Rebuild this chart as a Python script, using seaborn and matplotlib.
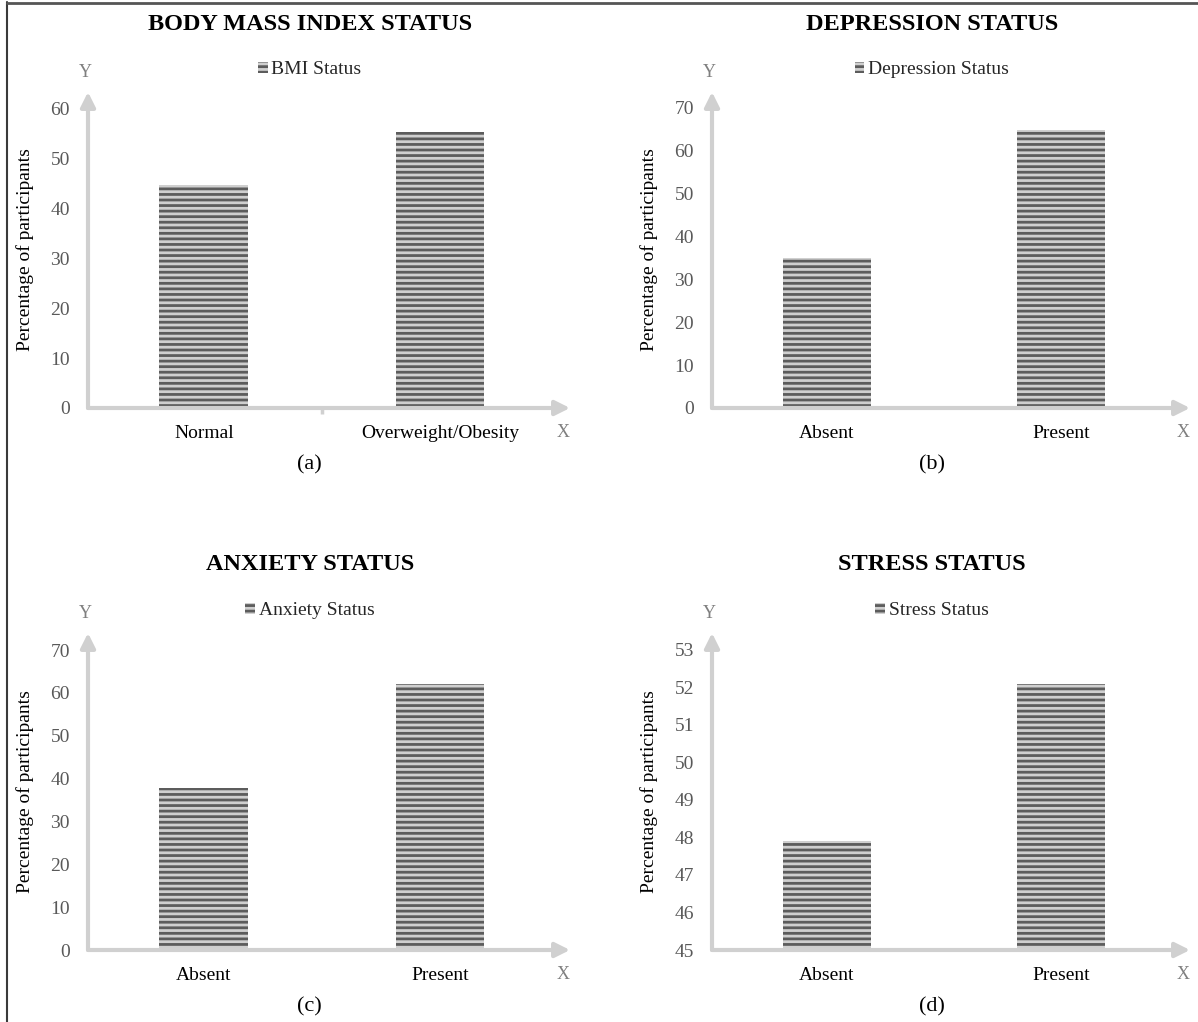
import matplotlib
matplotlib.use("Agg")
import matplotlib.pyplot as plt
import seaborn as sns
import pandas as pd
from matplotlib.lines import Line2D

sns.set_theme(style="white")
plt.rcParams['font.family'] = ['Liberation Serif', 'DejaVu Serif']
plt.rcParams['hatch.linewidth'] = 2.0
plt.rcParams['hatch.color'] = '#cfcfcf'

# --- data ---
bmi_cats = ["Normal", "Overweight/Obesity"]
bmi_vals = [44.7, 55.3]
dep_cats = ["Absent", "Present"]
dep_vals = [35.1, 64.9]
anx_cats = ["Absent", "Present"]
anx_vals = [37.8, 62.2]
str_cats = ["Absent", "Present"]
str_vals = [47.9, 52.1]

panels = [
    ("BODY MASS INDEX STATUS", "BMI Status", bmi_cats, bmi_vals, "(a)", (0, 63.4), range(0, 61, 10)),
    ("DEPRESSION STATUS", "Depression Status", dep_cats, dep_vals, "(b)", (0, 73.7), range(0, 71, 10)),
    ("ANXIETY STATUS", "Anxiety Status", anx_cats, anx_vals, "(c)", (0, 74.0), range(0, 71, 10)),
    ("STRESS STATUS", "Stress Status", str_cats, str_vals, "(d)", (45, 53.45), range(45, 54, 1)),
]

W, H = 1198, 1022
fig = plt.figure(figsize=(W / 100, H / 100), dpi=100)

# axes boxes in pixels: left, right, top (arrow tip), bottom (x axis)
boxes = [(88, 570, 92, 408), (712, 1190, 92, 408), (88, 570, 633, 950), (712, 1190, 633, 950)]

axis_col = '#d0d0d0'
tick_col = '#595959'
bar_col = '#5c5c5c'

for i, (title, leg, cats, vals, tag, ylim, yticks) in enumerate(panels):
    l, r, t, b = boxes[i]
    ax = fig.add_axes([l / W, (H - b) / H, (r - l) / W, (b - t) / H])
    df = pd.DataFrame({"cat": cats, "val": vals})
    sns.barplot(data=df, x="cat", y="val", ax=ax, color=bar_col, width=0.375,
                saturation=1, label=leg)
    for p in ax.patches:
        p.set_hatch('---')
        p.set_edgecolor('#cfcfcf')
        p.set_linewidth(0)
    ax.set_xlim(-0.49, 1.55)
    ax.set_ylim(*ylim)
    ax.set_yticks(list(yticks))
    ax.tick_params(axis='y', labelsize=14, length=0, pad=13)
    ax.tick_params(axis='x', labelcolor='black', labelsize=14, length=0, pad=12)
    for lab in ax.get_yticklabels():
        lab.set_color(tick_col)
    ax.set_xlabel("")
    ax.set_ylabel("Percentage of participants", fontsize=14, color='black', labelpad=12)
    for s in ax.spines.values():
        s.set_visible(False)

    # axis lines with arrow heads
    ax.annotate('', xy=(0, 1), xytext=(0, 0), xycoords='axes fraction',
                arrowprops=dict(arrowstyle='-|>', color=axis_col, lw=3, mutation_scale=22,
                                shrinkA=0, shrinkB=0), annotation_clip=False)
    ax.annotate('', xy=(1, 0), xytext=(0, 0), xycoords='axes fraction',
                arrowprops=dict(arrowstyle='-|>', color=axis_col, lw=3, mutation_scale=22,
                                shrinkA=0, shrinkB=0), annotation_clip=False)
    if i == 0:
        ax.plot([0.5, 0.5], [0, -1.3], color=axis_col, lw=2.5, clip_on=False,
                solid_capstyle='butt')

    ax.text(-0.005, 1.035, "Y", transform=ax.transAxes, ha='center', va='bottom',
            fontsize=13, color='#7f7f7f')
    ax.text(0.985, -0.05, "X", transform=ax.transAxes, ha='center', va='top',
            fontsize=13, color='#7f7f7f')

    handle = plt.Rectangle((0, 0), 1, 1, facecolor=bar_col, hatch='---',
                           edgecolor='#cfcfcf', linewidth=0)
    ax.legend([handle], [leg], loc='center', bbox_to_anchor=(0.46, 1.07),
              frameon=False, fontsize=14, handlelength=0.5, handleheight=0.5,
              handletextpad=0.2, borderpad=0)

    ax.text(0.46, 1.215, title, transform=ax.transAxes, ha='center', va='center',
            fontsize=17.5, fontweight='bold', color='black')
    ax.text(0.46, -0.18, tag, transform=ax.transAxes, ha='center', va='center',
            fontsize=16, color='black')

# frame lines on the figure (left and top only)
fig.add_artist(Line2D([7 / W, 7 / W], [0, 1 - 2 / H], color='#3a3a3a', lw=1.5))
fig.add_artist(Line2D([7 / W, 1], [1 - 3 / H, 1 - 3 / H], color='#555555', lw=2))

fig.savefig("out.png", dpi=100)
